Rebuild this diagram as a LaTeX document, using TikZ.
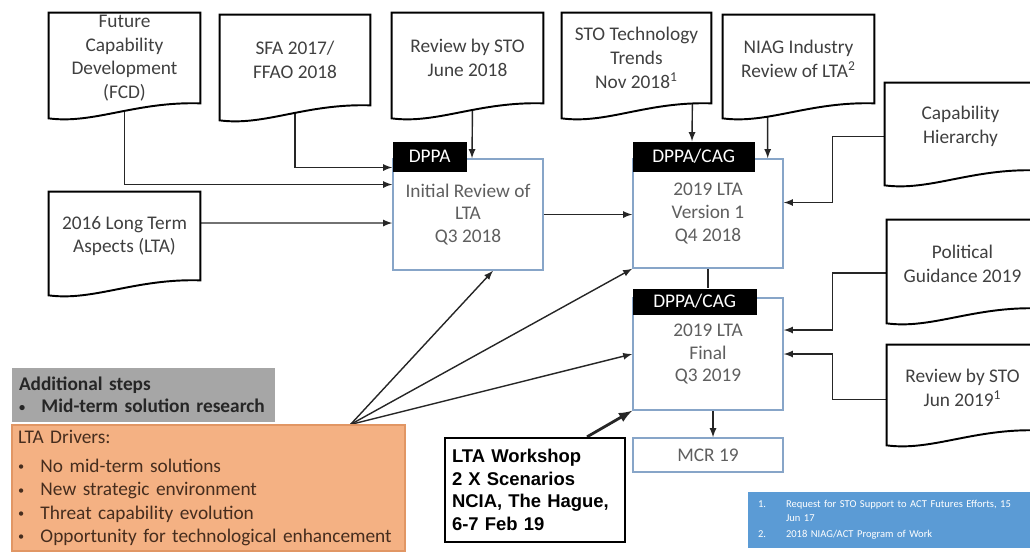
\documentclass[tikz,border=0pt]{standalone}
\usepackage{fontspec}
\setmainfont{Carlito}
\newfontfamily\wsfont{Liberation Sans}
\usetikzlibrary{positioning}
\usetikzlibrary{calc}
\usetikzlibrary{backgrounds}
\definecolor{boxblue}{RGB}{135,165,200}
\definecolor{driverorange}{RGB}{244,177,131}
\definecolor{driveredge}{RGB}{225,150,100}
\definecolor{stepgray}{RGB}{166,166,166}
\definecolor{notesblue}{RGB}{91,155,213}
\definecolor{doctext}{RGB}{64,64,64}
\definecolor{stagetext}{RGB}{95,95,95}
\definecolor{drivertext}{RGB}{70,45,30}
\tikzset{boxsize/.style 2 args={minimum width=#1*0.02cm,minimum height=#2*0.02cm},
docbox/.style={inner sep=0pt,align=center,text=doctext,font=\fontsize{11}{13.5}\selectfont},
docedge/.style={draw=black,fill=white,line width=1.1pt},
stagebox/.style={draw=boxblue,fill=white,line width=0.8pt,inner sep=0pt,align=center,text=stagetext,font=\fontsize{11}{13}\selectfont},
tagbox/.style={fill=black,text=white,inner sep=0pt,font=\fontsize{11}{13}\selectfont},
feed/.style={-latex,line width=0.8pt,draw=black!85}}
% document outline with wavy bottom
\newcommand{\docline}[1]{\draw[docedge] (#1.south east) -- (#1.north east) -- (#1.north west) -- ($(#1.south west)+(0,15)$) .. controls ($(#1.south west)+(45,21)$) and ($(#1.south east)+(-65,-2)$) .. (#1.south east) -- cycle;}
\newcommand{\bul}{\makebox[0.45cm][l]{\raisebox{0.15ex}{\fontsize{7}{7}\selectfont\textbullet}}}
\begin{document}
\begin{tikzpicture}[x=0.02cm,y=-0.02cm]
\useasboundingbox (0,0) rectangle (1030,552);
% source documents
\node[docbox,boxsize={151}{90}] (fcd) at (124.5,58) {Future\\Capability\\Development\\(FCD)};
\node[docbox,boxsize={150}{90}] (sfa) at (295,60) {SFA 2017/\\FFAO 2018};
\node[docbox,boxsize={151}{90}] (revA) at (467.5,58) {Review by STO\\June 2018};
\node[docbox,boxsize={149}{90}] (trends) at (636.5,58) {STO Technology\\Trends\\Nov 2018\textsuperscript{1}};
\node[docbox,boxsize={151}{88}] (niag) at (798.5,59) {NIAG Industry\\Review of LTA\textsuperscript{2}};
\node[docbox,boxsize={151}{87}] (caph) at (960.5,126.5) {Capability\\Hierarchy};
\node[docbox,boxsize={151}{88}] (polg) at (962.5,264) {Political\\Guidance 2019};
\node[docbox,boxsize={151}{85}] (revB) at (962.5,387.5) {Review by STO\\Jun 2019\textsuperscript{1}};
\node[docbox,boxsize={151}{88}] (lta16) at (124.5,236) {2016 Long Term\\Aspects (LTA)};
% stages
\node[stagebox,boxsize={150}{111}] (initrev) at (468,214.5) {Initial Review of\\LTA\\Q3 2018};
\node[tagbox,boxsize={74}{30},anchor=north west] (tagA) at ($(initrev.north west)+(0,-17)$) {DPPA};
\node[stagebox,boxsize={150}{109}] (v1) at (708,213.5) {2019 LTA\\Version 1\\Q4 2018};
\node[tagbox,boxsize={122}{30},anchor=north west] (tagB) at ($(v1.north west)+(0,-17)$) {DPPA/CAG};
\node[stagebox,boxsize={150}{112}] (final) at (708,354) {2019 LTA\\Final\\Q3 2019};
\node[tagbox,boxsize={124}{26},anchor=north west] (tagC) at ($(final.north west)+(0,-9)$) {DPPA/CAG};
\node[stagebox,boxsize={150}{34}] (mcr) at (708,455) {MCR 19};
% workshop and drivers
\node[draw=black,line width=1.3pt,fill=white,boxsize={180}{104},inner sep=0pt,text width=166*0.02cm,align=left,font=\wsfont\bfseries\fontsize{10.5}{12.8}\selectfont] (ws) at (535,490) {LTA Workshop\\2 X Scenarios\\NCIA, The Hague,\\6-7 Feb 19};
\node[fill=stepgray,boxsize={263}{54},inner sep=0pt,text width=249*0.02cm,align=left,text=black!85,font=\bfseries\fontsize{11}{12.5}\selectfont] (steps) at (143.5,395) {Additional steps\\\bul Mid-term solution research};
\node[fill=driverorange,draw=driveredge,line width=0.6pt,boxsize={393}{126},inner sep=0pt,text width=381*0.02cm,align=left,text=drivertext,font=\fontsize{11}{13.3}\selectfont] (drivers) at (208.5,488) {LTA Drivers:\\[3pt]\bul No mid-term solutions\\\bul New strategic environment\\\bul Threat capability evolution\\\bul Opportunity for technological enhancement};
\node[fill=notesblue,boxsize={282}{56},inner sep=0pt,text width=262*0.02cm,align=left,text=white,font=\fontsize{6}{8}\selectfont] (notes) at (889,520) {\begin{tabular}{@{}p{0.56cm}@{}p{4.75cm}@{}}1. & Request for STO Support to ACT Futures Efforts, 15 Jun 17\\[1pt] 2. & 2018 NIAG/ACT Program of Work\end{tabular}};
\begin{scope}[on background layer]
\draw[feed] (fcd.south) |- ($(initrev.west)+(0,-30)$);
\draw[feed] (sfa.south) |- ($(initrev.west)+(0,-47)$);
\draw[feed] ($(lta16.east)+(0,-13)$) -- ($(initrev.west)+(0,8.5)$);
\draw[feed] ($(revA.south)+(5,0)$) -- ($(initrev.north)+(4,0)$);
\draw[feed] (initrev.east) -- (initrev.east -| v1.west);
\draw[feed] ($(trends.south east)+(-19,0)$) -- ($(tagB.north east)+(-63,0)$);
\draw[feed] ($(niag.south)+(-31,0)$) -- ($(v1.north east)+(-16,0)$);
\draw[feed] ($(caph.west)+(0,10)$) -- ++(-52,0) |- ($(v1.east)+(0,-11)$);
\draw[feed] ($(polg.west)+(0,9)$) -- ++(-54,0) |- ($(final.east)+(0,-24)$);
\draw[feed] ($(revB.west)+(0,12)$) -- ++(-54,0) |- (final.east);
\draw[line width=0.8pt,black!85] (v1.south) -- (v1.south |- tagC.north);
\draw[feed] ($(final.south)+(5,0)$) -- ($(mcr.north)+(5,0)$);
\draw[feed,line width=1.6pt] ($(ws.north)+(52,0)$) -- (final.south west);
\coordinate (hub) at ($(drivers.north east)+(-55,0)$);
\draw[feed] (hub) -- ($(initrev.south)+(25,0)$);
\draw[feed] (hub) -- (v1.south west);
\draw[feed] (hub) -- (final.west);
% document outlines
\docline{fcd}
\docline{sfa}
\docline{revA}
\docline{trends}
\docline{niag}
\docline{caph}
\docline{polg}
\docline{revB}
\docline{lta16}
\end{scope}
\end{tikzpicture}
\end{document}
